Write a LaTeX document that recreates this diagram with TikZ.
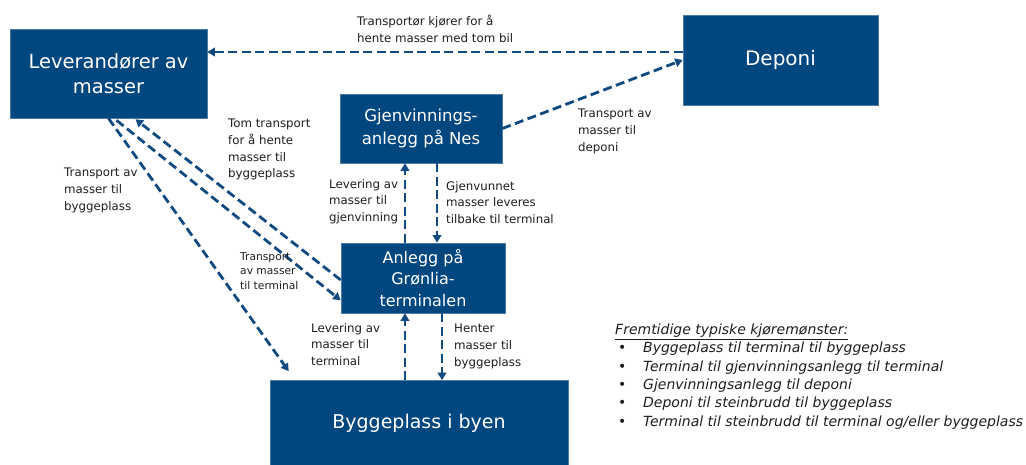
\documentclass[tikz,border=0pt]{standalone}
\usepackage{fontspec}
\setmainfont{DejaVu Sans}
\usetikzlibrary{arrows.meta,calc}
\definecolor{boxblue}{RGB}{0,70,127}
\definecolor{arrblue}{RGB}{16,74,128}
\definecolor{txtgray}{RGB}{30,30,30}
\begin{document}
\begin{tikzpicture}[x=1pt,y=-1pt,
  box/.style={fill=boxblue,draw=boxblue!70!white,line width=0.6pt,text=white,align=center,inner sep=0pt},
  arr/.style={draw=arrblue,line width=2.8pt,dash pattern=on 9pt off 4.5pt,-{Triangle[length=7.5pt,width=8.5pt]}},
  lbl/.style={anchor=north west,inner sep=0pt,align=left,text=txtgray,font={\fontsize{11.8}{16.7}\selectfont}},
  smalllbl/.style={lbl,font={\fontsize{10.7}{14.8}\selectfont}},
  legend/.style={anchor=north west,inner sep=0pt,align=left,text=txtgray,font={\fontsize{14}{18.3}\selectfont\itshape}}
]
\useasboundingbox (0,0) rectangle (1026,465);
\fill[white] (0,0) rectangle (1026,465);

% boxes
\node[box,minimum width=197pt,minimum height=89pt,font={\fontsize{19.5}{25}\selectfont}] (lev) at (108.5,73.5) {Leverandører av\\masser};
\node[box,minimum width=195pt,minimum height=90pt,font={\fontsize{20}{25}\selectfont}] (dep) at (780.5,60) {Deponi};
\node[box,minimum width=162pt,minimum height=69pt,font={\fontsize{16.5}{23}\selectfont}] (gjv) at (421,128.5) {Gjenvinnings-\\anlegg på Nes};
\node[box,minimum width=164pt,minimum height=70pt,font={\fontsize{16}{21.5}\selectfont}] (anl) at (423,278) {Anlegg på\\Grønlia-\\terminalen};
\node[box,minimum width=298pt,minimum height=85pt,font={\fontsize{19}{25}\selectfont}] (byg) at (419,423) {Byggeplass i byen};

% connectors
\draw[arr] ($(dep.west)+(0,-8)$) -- ($(lev.east)+(0,-21.5)$);
\draw[arr] (gjv.east) -- (dep.west);
\draw[arr] (lev.south) -- ($(byg.north west)+(19,-9)$);
\draw[arr] ($(lev.south)+(8,2)$) -- ($(anl.south west)+(0,-13)$);
\draw[arr] ($(anl.west)+(0,2)$) -- ($(lev.south)+(27,1)$);
\draw[arr] ($(anl.north)+(-18,0)$) -- ($(gjv.south)+(-16,0)$);
\draw[arr] ($(gjv.south)+(16,0)$) -- ($(anl.north)+(14,0)$);
\draw[arr] ($(byg.north)+(-14,0)$) -- ($(anl.south)+(-18,0)$);
\draw[arr] ($(anl.south)+(19,0)$) -- ($(byg.north)+(23,0)$);

% labels
\node[lbl] (l1) at (357,15) {Transportør kjører for å\\hente masser med tom bil};
\node[lbl] (l2) at (578,109) {Transport av\\masser til\\deponi};
\node[lbl] (l3) at (228,119) {Tom transport\\for å hente\\masser til\\byggeplass};
\node[lbl] (l4) at (64,168) {Transport av\\masser til\\byggeplass};
\node[lbl] (l5) at (329,179) {Levering av\\masser til\\gjenvinning};
\node[lbl] (l6) at (446,181) {Gjenvunnet\\masser leveres\\tilbake til terminal};
\node[smalllbl] (l7) at (240,252) {Transport\\av masser\\til terminal};
\node[lbl] (l8) at (311,323) {Levering av\\masser til\\terminal};
\node[lbl] (l9) at (454,324) {Henter\\masser til\\byggeplass};

% legend
\node[legend] (lt) at (615,324) {\underline{Fremtidige typiske kjøremønster:}};
\node[legend] (li) at (618,342) {%
\makebox[25pt][l]{\normalfont\fontsize{14}{18.3}\selectfont•}Byggeplass til terminal til byggeplass\\
\makebox[25pt][l]{\normalfont\fontsize{14}{18.3}\selectfont•}Terminal til gjenvinningsanlegg til terminal\\
\makebox[25pt][l]{\normalfont\fontsize{14}{18.3}\selectfont•}Gjenvinningsanlegg til deponi\\
\makebox[25pt][l]{\normalfont\fontsize{14}{18.3}\selectfont•}Deponi til steinbrudd til byggeplass\\
\makebox[25pt][l]{\normalfont\fontsize{14}{18.3}\selectfont•}Terminal til steinbrudd til terminal og/eller byggeplass};
\end{tikzpicture}
\end{document}
